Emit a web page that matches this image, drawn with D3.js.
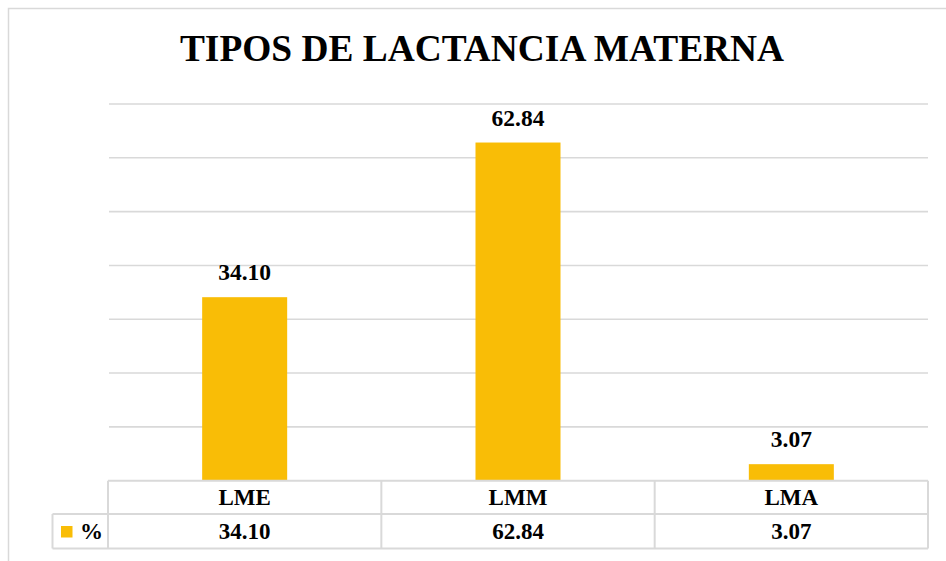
<!DOCTYPE html>
<html>
<head>
<meta charset="utf-8">
<script src="https://cdn.jsdelivr.net/npm/d3@7/dist/d3.min.js"></script>
<style>
  html, body { margin: 0; padding: 0; background: #ffffff; }
  svg { display: block; }
  text { font-family: "Liberation Serif", "Times New Roman", serif; font-weight: bold; fill: #000; }
</style>
</head>
<body>
<svg id="chart" width="946" height="561"></svg>
<script>
const title = "TIPOS DE LACTANCIA MATERNA";
const categories = ["LME", "LMM", "LMA"];
const values = [34.10, 62.84, 3.07];
const seriesName = "%";
const yTicks = [0, 10, 20, 30, 40, 50, 60, 70];

const svg = d3.select("#chart");
const gridColor = "#d9d9d9";
const barColor = "#F9BD06";

// outer chart border
svg.append("rect")
  .attr("x", 8.5).attr("y", 8.5).attr("width", 1000).attr("height", 1000)
  .attr("fill", "none").attr("stroke", gridColor).attr("stroke-width", 1.5);

const x = d3.scaleBand().domain(categories).range([108, 928]).paddingInner(0).paddingOuter(0);
const y = d3.scaleLinear().domain([0, 70]).range([480.7, 104]);

// gridlines
svg.append("g").selectAll("line").data(yTicks.filter(d => d > 0)).join("line")
  .attr("x1", 109).attr("x2", 928)
  .attr("y1", d => y(d)).attr("y2", d => y(d))
  .attr("stroke", gridColor).attr("stroke-width", 1.6);

// title
svg.append("text")
  .attr("x", 482).attr("y", 61)
  .attr("text-anchor", "middle")
  .style("font-size", "37.4px")
  .text(title);

// bars
const barW = x.bandwidth() * 0.311;
svg.append("g").selectAll("rect").data(values).join("rect")
  .attr("x", (d, i) => x(categories[i]) + x.bandwidth() / 2 - barW / 2)
  .attr("y", d => y(d))
  .attr("width", barW)
  .attr("height", d => y(0) - y(d))
  .attr("fill", barColor);

// data labels
svg.append("g").selectAll("text").data(values).join("text")
  .attr("x", (d, i) => x(categories[i]) + x.bandwidth() / 2)
  .attr("y", d => y(d) - 17)
  .attr("text-anchor", "middle")
  .style("font-size", "23.5px")
  .text(d => d.toFixed(2));

// data table
const rowTop = y(0), rowMid = 514, rowBot = 548.5, legLeft = 52.5;
const tbl = svg.append("g").attr("stroke", gridColor).attr("stroke-width", 2).attr("fill", "none");
tbl.append("line").attr("x1", 108).attr("x2", 928).attr("y1", rowTop).attr("y2", rowTop);
tbl.append("line").attr("x1", legLeft).attr("x2", 928).attr("y1", rowMid).attr("y2", rowMid);
tbl.append("line").attr("x1", legLeft).attr("x2", 928).attr("y1", rowBot).attr("y2", rowBot);
tbl.append("line").attr("x1", legLeft).attr("x2", legLeft).attr("y1", rowMid).attr("y2", rowBot);
const vx = categories.map(c => x(c)).concat([x(categories[categories.length - 1]) + x.bandwidth()]);
tbl.selectAll(".v").data(vx).join("line")
  .attr("x1", d => d).attr("x2", d => d).attr("y1", rowTop).attr("y2", rowBot);

// category row
svg.append("g").selectAll("text").data(categories).join("text")
  .attr("x", d => x(d) + x.bandwidth() / 2)
  .attr("y", 504.5)
  .attr("text-anchor", "middle")
  .style("font-size", "23px")
  .text(d => d);

// value row
svg.append("g").selectAll("text").data(values).join("text")
  .attr("x", (d, i) => x(categories[i]) + x.bandwidth() / 2)
  .attr("y", 539.3)
  .attr("text-anchor", "middle")
  .style("font-size", "23px")
  .text(d => d.toFixed(2));

// legend key
svg.append("rect").attr("x", 61).attr("y", 526).attr("width", 11.5).attr("height", 11.5).attr("fill", barColor);
svg.append("text").attr("x", 80).attr("y", 539.3).style("font-size", "23px").text(seriesName);
</script>
</body>
</html>
